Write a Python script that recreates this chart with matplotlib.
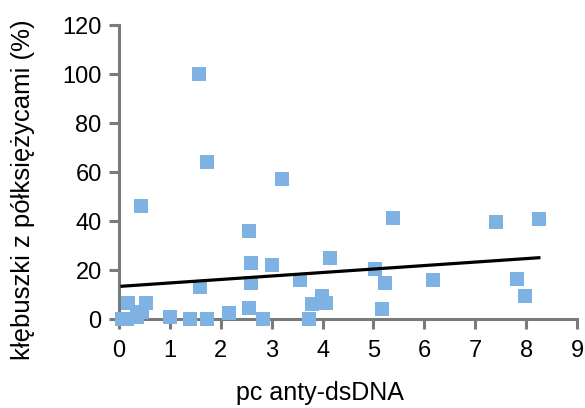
import matplotlib
matplotlib.use("Agg")
import matplotlib.pyplot as plt
import numpy as np

plt.rcParams['font.family'] = ['Liberation Sans', 'DejaVu Sans']

# ---- data ----
pc_dsdna = [0.06, 0.15, 0.18, 0.35, 0.43, 0.45, 0.53, 1.0, 1.4, 1.57, 1.59, 1.72,
            1.73, 2.16, 2.55, 2.55, 2.6, 2.6, 2.83, 3.0, 3.2, 3.55, 3.73, 3.8,
            3.99, 4.07, 4.15, 5.03, 5.17, 5.23, 5.38, 6.17, 7.41, 7.82, 7.98, 8.25]
crescents = [0, 0, 6.5, 1, 46, 3, 6.5, 1, 0, 100, 13, 0,
             64, 2.5, 36, 4.5, 23, 14.5, 0, 22, 57, 16, 0, 6,
             9.5, 6.5, 25, 20.5, 4, 14.5, 41.2, 16, 39.8, 16.5, 9.5, 41]
fit_intercept = 13.3
fit_slope = 1.42

xticks = list(range(0, 10))
yticks = [0, 20, 40, 60, 80, 100, 120]

# ---- plot ----
fig = plt.figure(figsize=(5.85, 4.08), dpi=100)
ax = fig.add_axes([0.2034, 0.2181, 0.783, 0.7206])

ax.plot(pc_dsdna, crescents, linestyle="none", marker="s", markersize=10,
        color="#7eb2e2", markeredgewidth=0, clip_on=False, zorder=3)

xfit = np.array([min(pc_dsdna), max(pc_dsdna)])
ax.plot(xfit, fit_intercept + fit_slope * xfit, color="black", linewidth=2.3,
        zorder=4)

ax.set_xlim(0, 9)
ax.set_ylim(0, 120)
ax.set_xticks(xticks)
ax.set_yticks(yticks)

for side in ["top", "right"]:
    ax.spines[side].set_visible(False)
for side in ["left", "bottom"]:
    ax.spines[side].set_color("#7a7a7a")
    ax.spines[side].set_linewidth(2.2)
    ax.spines[side].set_zorder(2)

ax.tick_params(axis="both", colors="#7a7a7a", width=2.2, length=7,
               labelsize=17, labelcolor="black")
ax.tick_params(axis="x", pad=8)
ax.tick_params(axis="y", pad=5.5)

ax.set_xlabel("pc anty-dsDNA", fontsize=18)
ax.set_ylabel("kłębuszki z półksiężycami (%)", fontsize=18.5)
ax.xaxis.set_label_coords(0.438, -0.212)
ax.yaxis.set_label_coords(-0.183, 0.439)

fig.savefig("out.png", dpi=100)
